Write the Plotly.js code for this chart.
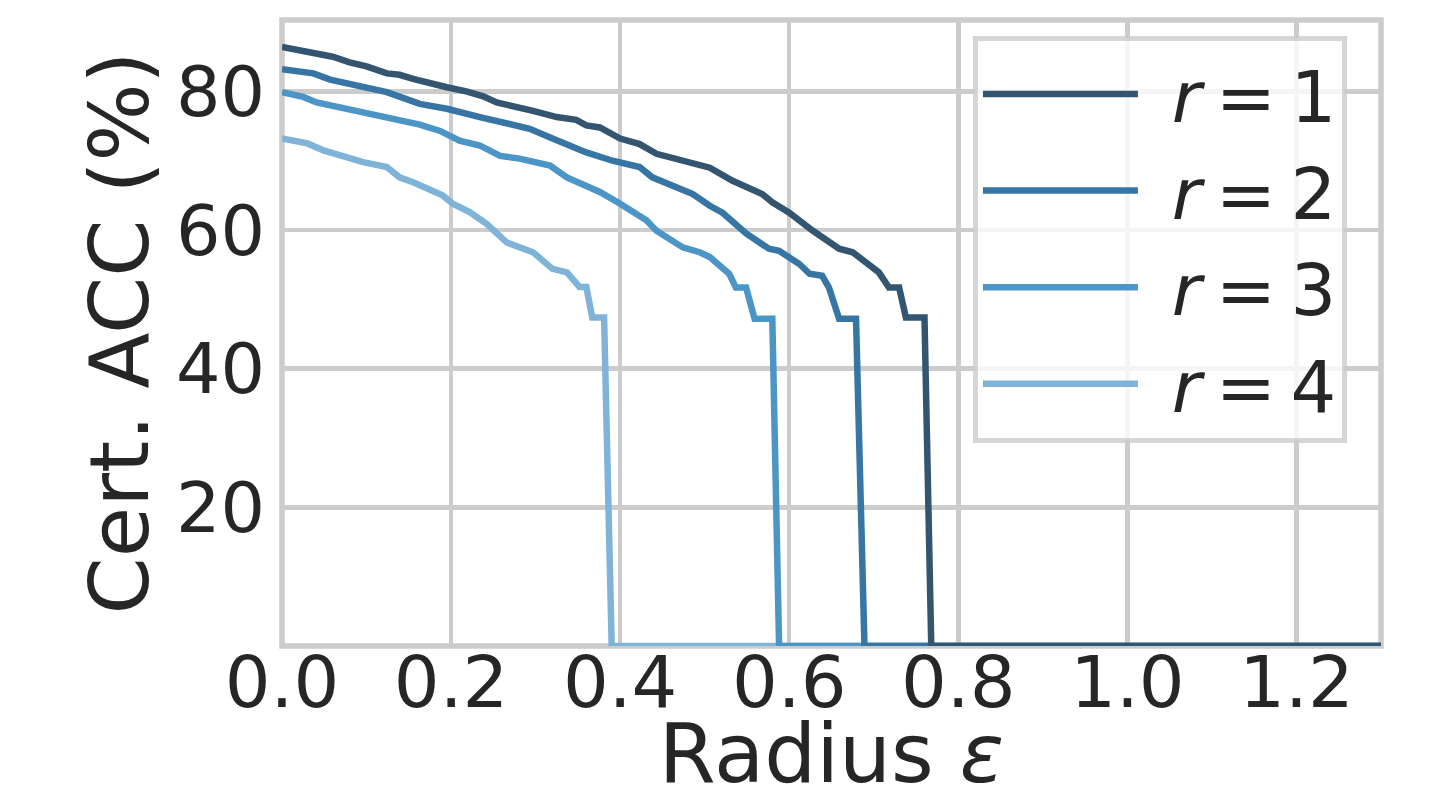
<!DOCTYPE html>
<html>
<head>
<meta charset="utf-8">
<script src="https://cdn.plot.ly/plotly-3.0.1.min.js"></script>
<style>
  html, body { margin: 0; padding: 0; background: #ffffff; }
  #chart { width: 1439px; height: 801px; }
</style>
</head>
<body>
<div id="chart"></div>
<script>
// Series names (legend labels)
const seriesNames = ["\u2009\u2009<i>r</i>\u2009=\u20091", "\u2009\u2009<i>r</i>\u2009=\u20092", "\u2009\u2009<i>r</i>\u2009=\u20093", "\u2009\u2009<i>r</i>\u2009=\u20094"];

// r = 1
const r1_x = [0, 0.033, 0.049, 0.06, 0.08, 0.1, 0.124, 0.139, 0.155, 0.175, 0.195, 0.218, 0.238, 0.254, 0.277, 0.297, 0.325, 0.348, 0.36, 0.376, 0.40, 0.423, 0.443, 0.482, 0.506, 0.533, 0.568, 0.58, 0.60, 0.628, 0.659, 0.675, 0.706, 0.718, 0.73, 0.738, 0.76, 0.768, 1.3];
const r1_y = [86.4, 85.6, 85.2, 85.0, 84.2, 83.6, 82.6, 82.4, 81.8, 81.1, 80.6, 80.0, 79.3, 78.4, 77.8, 77.2, 76.3, 75.9, 75.1, 74.8, 73.2, 72.4, 71.0, 69.7, 69.0, 67.1, 65.2, 64.0, 62.5, 59.9, 57.3, 56.8, 53.9, 51.7, 51.7, 47.4, 47.4, 0, 0];

// r = 2
const r2_x = [0, 0.021, 0.037, 0.057, 0.08, 0.124, 0.163, 0.195, 0.234, 0.273, 0.293, 0.32, 0.36, 0.391, 0.423, 0.438, 0.486, 0.506, 0.521, 0.549, 0.576, 0.588, 0.612, 0.624, 0.639, 0.647, 0.659, 0.679, 0.689, 1.3];
const r2_y = [83.2, 82.8, 82.6, 81.7, 81.1, 79.9, 78.2, 77.5, 76.3, 75.3, 74.6, 73.2, 71.2, 70.0, 69.1, 67.6, 65.2, 63.5, 62.5, 59.5, 57.3, 57.0, 55.1, 53.7, 53.4, 51.7, 47.2, 47.2, 0, 0];

// r = 3
const r3_x = [0, 0.025, 0.041, 0.065, 0.089, 0.116, 0.148, 0.163, 0.187, 0.21, 0.234, 0.258, 0.281, 0.297, 0.317, 0.337, 0.376, 0.40, 0.431, 0.443, 0.474, 0.494, 0.506, 0.529, 0.537, 0.549, 0.559, 0.58, 0.588, 1.3];
const r3_y = [79.9, 79.2, 78.4, 77.8, 77.2, 76.3, 75.5, 75.2, 74.3, 72.9, 72.2, 70.7, 70.3, 69.8, 69.3, 67.6, 65.5, 63.8, 61.4, 59.9, 57.5, 56.8, 56.1, 53.7, 51.7, 51.7, 47.2, 47.2, 0, 0];

// r = 4
const r4_x = [0, 0.03, 0.049, 0.077, 0.096, 0.124, 0.139, 0.155, 0.171, 0.19, 0.202, 0.222, 0.242, 0.266, 0.297, 0.32, 0.337, 0.352, 0.36, 0.367, 0.381, 0.39, 1.3];
const r4_y = [73.2, 72.5, 71.5, 70.5, 69.8, 69.1, 67.6, 66.9, 66.0, 65.0, 63.8, 62.6, 60.9, 58.2, 56.8, 54.4, 53.9, 51.8, 51.8, 47.4, 47.4, 0, 0];

// Axis ticks
const xTickVals = [0, 0.2, 0.4, 0.6, 0.8, 1.0, 1.2];
const xTickText = ["0.0", "0.2", "0.4", "0.6", "0.8", "1.0", "1.2"];
const yTickVals = [20, 40, 60, 80];
const yTickText = ["20", "40", "60", "80"];

const colors = ["#34556f", "#3776a4", "#4c95c7", "#7fb4d8"];
const xs = [r1_x, r2_x, r3_x, r4_x];
const ys = [r1_y, r2_y, r3_y, r4_y];

const FONT = "DejaVu Sans, Liberation Sans, sans-serif";
const TXT = "#262626";

// Draw r=4 first so r=1 ends on top (as in the reference)
const traces = [];
for (let i = 3; i >= 0; i--) {
  traces.push({
    type: "scatter",
    mode: "lines",
    name: seriesNames[i],
    x: xs[i],
    y: ys[i],
    line: { color: colors[i], width: 6.5 },
    hoverinfo: "skip"
  });
}

const layout = {
  width: 1439,
  height: 801,
  margin: { l: 282, r: 58, t: 20, b: 155, pad: 0 },
  paper_bgcolor: "#ffffff",
  plot_bgcolor: "#ffffff",
  font: { family: FONT, color: TXT },
  showlegend: true,
  xaxis: {
    range: [0, 1.3],
    tickvals: xTickVals,
    ticktext: xTickText,
    tickfont: { family: FONT, size: 72, color: TXT },
    showgrid: true,
    gridcolor: "#cccccc",
    gridwidth: 4.5,
    zeroline: false,
    showline: false,
    ticks: "",
    ticklabelstandoff: -12,
    title: { text: "Radius <i>ε</i>", font: { family: FONT, size: 82, color: TXT }, standoff: 28 }
  },
  yaxis: {
    range: [0, 90.3],
    tickvals: yTickVals,
    ticktext: yTickText,
    tickfont: { family: FONT, size: 70, color: TXT },
    showgrid: true,
    gridcolor: "#cccccc",
    gridwidth: 4.5,
    zeroline: false,
    showline: false,
    ticks: "",
    ticklabelstandoff: 16,
    title: { text: "Cert. ACC (%)", font: { family: FONT, size: 82, color: TXT }, standoff: 0 }
  },
  legend: {
    x: 0.969, xanchor: "right",
    y: 0.975, yanchor: "top",
    font: { family: FONT, size: 72, color: TXT },
    bgcolor: "rgba(255,255,255,0.8)",
    bordercolor: "rgba(204,204,204,0.8)",
    borderwidth: 5,
    traceorder: "reversed",
    itemwidth: 155
  },
  shapes: [{
    type: "rect", xref: "paper", yref: "paper",
    x0: 0, x1: 1, y0: 0, y1: 1,
    line: { color: "#cccccc", width: 5.5 },
    layer: "below"
  }]
};

Plotly.newPlot("chart", traces, layout, { displayModeBar: false, staticPlot: true });
</script>
</body>
</html>
